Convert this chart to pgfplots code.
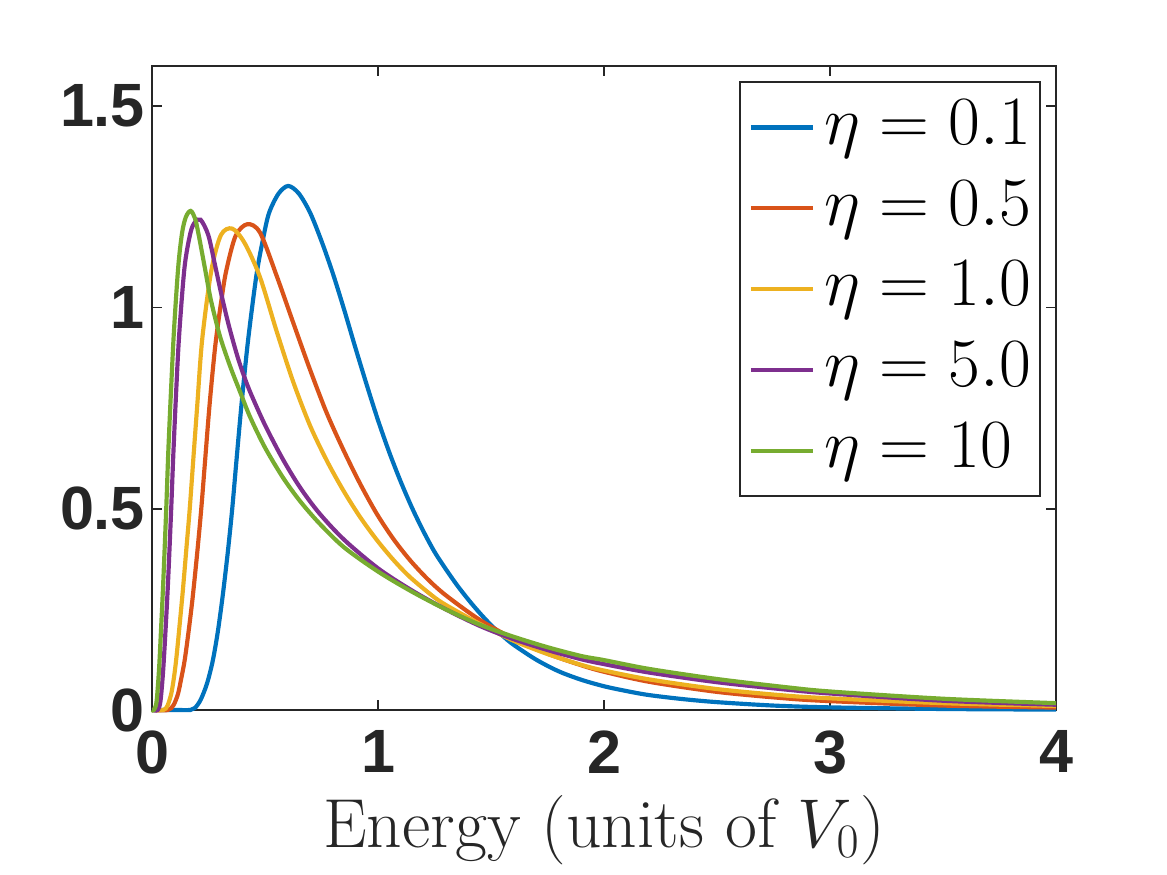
\documentclass[border=0pt]{standalone}
\usepackage{fontspec}
\usepackage{pgfplots}
\pgfplotsset{compat=1.18}
\newfontfamily\hv{Liberation Sans}
\definecolor{mblue}{rgb}{0,0.447,0.741}
\definecolor{morange}{rgb}{0.85,0.325,0.098}
\definecolor{myellow}{rgb}{0.929,0.694,0.125}
\definecolor{mpurple}{rgb}{0.494,0.184,0.556}
\definecolor{mgreen}{rgb}{0.466,0.674,0.188}
\definecolor{axgray}{rgb}{0.15,0.15,0.15}
\begin{document}
\begin{tikzpicture}
\useasboundingbox (-54.72pt,-59.4pt) rectangle (365.4pt,255.6pt);
\begin{axis}[
  at={(0pt,0pt)}, anchor=south west,
  scale only axis, width=325.44pt, height=231.84pt,
  xmin=0, xmax=4, ymin=0, ymax=1.6,
  xtick={0,1,2,3,4}, ytick={0,0.5,1,1.5},
  xtick pos=both, ytick pos=both, tick align=inside,
  major tick length=3.6pt,
  tick style={line width=0.7pt, color=axgray},
  axis line style={line width=0.7pt, color=axgray},
  /pgf/number format/assume math mode=true,
  ticklabel style={font=\fontsize{22}{26}\selectfont\hv\bfseries, text=axgray},
  yticklabel style={xshift=1pt},
  xticklabel style={yshift=-4.0pt},
  xlabel={Energy (units of $V_0$)},
  xlabel style={font=\fontsize{25}{30}\selectfont, text=axgray, at={(axis description cs:0.5,0)}, anchor=base, yshift=-49.5pt},
  clip=false,
  legend cell align=left,
  legend style={at={(axis description cs:0.9833,0.9765)}, anchor=north east,
    draw=axgray, line width=0.7pt, fill=white,
    inner xsep=3.2pt, inner ysep=1.8pt, row sep=0pt,
    font=\fontsize{24}{29}\selectfont,
    nodes={inner sep=0pt, text height=20.55pt, text depth=8.55pt}},
  legend image code/.code={\draw[#1] (0pt,0pt) -- (22.3pt,0pt); \path (25.9pt,0pt);},
]
\addplot[color=mblue, line width=1.5pt, smooth] coordinates {(0,0)(0.10,0)(0.17,0)(0.19,0.005)(0.215,0.025)(0.243,0.065)(0.268,0.12)(0.29,0.19)(0.312,0.28)(0.335,0.39)(0.355,0.50)(0.375,0.628)(0.397,0.765)(0.425,0.918)(0.462,1.08)(0.492,1.172)(0.518,1.235)(0.56,1.283)(0.603,1.302)(0.65,1.283)(0.70,1.235)(0.75,1.165)(0.80,1.085)(0.85,0.995)(0.90,0.90)(0.95,0.808)(1.0,0.72)(1.05,0.64)(1.1,0.568)(1.15,0.503)(1.2,0.445)(1.25,0.393)(1.3,0.35)(1.35,0.31)(1.4,0.274)(1.45,0.241)(1.5,0.211)(1.55,0.185)(1.6,0.162)(1.7,0.125)(1.8,0.096)(1.9,0.075)(2.0,0.059)(2.1,0.047)(2.2,0.037)(2.35,0.027)(2.5,0.0195)(2.75,0.011)(3.0,0.0065)(3.5,0.0025)(4.0,0.001)};
\addlegendentry{$\eta = 0.1$}
\addplot[color=morange, line width=1.5pt, smooth] coordinates {(0,0)(0.07,0)(0.095,0.012)(0.115,0.04)(0.13,0.08)(0.145,0.125)(0.163,0.20)(0.18,0.28)(0.20,0.39)(0.218,0.50)(0.235,0.62)(0.255,0.76)(0.28,0.905)(0.305,1.01)(0.328,1.09)(0.37,1.178)(0.422,1.207)(0.478,1.186)(0.552,1.078)(0.625,0.962)(0.699,0.846)(0.773,0.738)(0.847,0.646)(0.92,0.563)(0.994,0.488)(1.068,0.425)(1.142,0.372)(1.22,0.325)(1.30,0.285)(1.45,0.224)(1.6,0.177)(1.75,0.140)(1.9,0.111)(2.0,0.095)(2.2,0.070)(2.5,0.045)(2.8,0.029)(3.0,0.022)(3.5,0.011)(4.0,0.006)};
\addlegendentry{$\eta = 0.5$}
\addplot[color=myellow, line width=1.5pt, smooth] coordinates {(0,0)(0.05,0)(0.068,0.01)(0.085,0.04)(0.097,0.08)(0.108,0.13)(0.122,0.21)(0.137,0.30)(0.152,0.40)(0.167,0.50)(0.185,0.64)(0.20,0.755)(0.222,0.92)(0.262,1.09)(0.305,1.18)(0.355,1.196)(0.41,1.16)(0.478,1.075)(0.552,0.94)(0.625,0.815)(0.699,0.707)(0.773,0.62)(0.847,0.545)(0.92,0.48)(0.994,0.423)(1.068,0.373)(1.142,0.330)(1.24,0.284)(1.30,0.261)(1.45,0.214)(1.6,0.172)(1.75,0.139)(1.9,0.112)(2.0,0.098)(2.2,0.076)(2.5,0.052)(2.8,0.036)(3.0,0.029)(3.5,0.017)(4.0,0.010)};
\addlegendentry{$\eta = 1.0$}
\addplot[color=mpurple, line width=1.5pt, smooth] coordinates {(0,0)(0.025,0)(0.037,0.02)(0.047,0.08)(0.054,0.14)(0.063,0.23)(0.072,0.33)(0.085,0.50)(0.094,0.63)(0.106,0.78)(0.12,0.93)(0.144,1.10)(0.17,1.185)(0.19,1.212)(0.215,1.218)(0.249,1.18)(0.279,1.105)(0.308,1.03)(0.34,0.955)(0.38,0.875)(0.42,0.81)(0.46,0.757)(0.507,0.70)(0.58,0.622)(0.655,0.553)(0.74,0.489)(0.85,0.423)(1.0,0.352)(1.15,0.297)(1.3,0.250)(1.45,0.209)(1.6,0.176)(1.75,0.149)(1.9,0.126)(2.0,0.114)(2.2,0.093)(2.5,0.069)(2.8,0.051)(3.0,0.041)(3.5,0.023)(4.0,0.013)};
\addlegendentry{$\eta = 5.0$}
\addplot[color=mgreen, line width=1.5pt, smooth] coordinates {(0,0)(0.008,0)(0.02,0.02)(0.031,0.10)(0.04,0.20)(0.05,0.32)(0.063,0.50)(0.072,0.64)(0.083,0.78)(0.097,0.94)(0.116,1.10)(0.133,1.185)(0.15,1.225)(0.171,1.240)(0.19,1.222)(0.205,1.185)(0.235,1.095)(0.26,1.02)(0.30,0.93)(0.345,0.855)(0.39,0.79)(0.434,0.728)(0.50,0.652)(0.58,0.577)(0.655,0.519)(0.74,0.464)(0.85,0.404)(1.0,0.344)(1.15,0.294)(1.3,0.250)(1.45,0.212)(1.6,0.182)(1.75,0.156)(1.9,0.134)(2.0,0.124)(2.2,0.102)(2.5,0.077)(2.8,0.057)(3.0,0.046)(3.5,0.028)(4.0,0.017)};
\addlegendentry{$\eta = 10$}
\end{axis}
\end{tikzpicture}
\end{document}
